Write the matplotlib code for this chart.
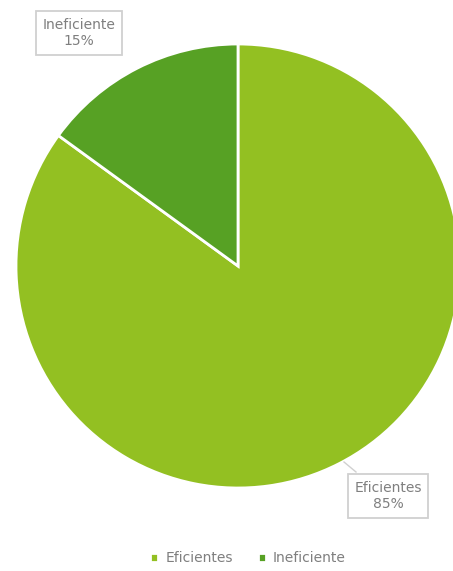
import matplotlib
matplotlib.use('Agg')
import matplotlib.pyplot as plt

# data
labels = ['Eficientes', 'Ineficiente']
values = [85, 15]
colors = ['#93c022', '#57a124']

W, H = 453, 571
fig = plt.figure(figsize=(W / 100, H / 100), dpi=100)
ax = fig.add_axes([0, 0, 1, 1])

cx, cy, r = 238, H - 266, 222
wedges, _ = ax.pie(values, colors=colors, startangle=90, counterclock=False,
                   center=(cx, cy), radius=r, frame=True,
                   wedgeprops=dict(edgecolor='white', linewidth=2))
ax.set_xlim(0, W)
ax.set_ylim(0, H)
ax.set_aspect('equal')
ax.axis('off')

box = dict(boxstyle='square,pad=0.45', fc='white', ec='#d0d0d0', lw=1.3)
txt = dict(fontsize=10, color='#7f7f7f', ha='center', va='center', linespacing=1.25)

# leader line for Eficientes
ax.plot([344, 356], [H - 462, H - 472], color='#d0d0d0', lw=1)
ax.text(388, H - 496, '%s\n%d%%' % (labels[0], values[0]), bbox=box, **txt)
ax.text(79, H - 33, '%s\n%d%%' % (labels[1], values[1]), bbox=box, **txt)

leg = ax.legend(wedges, labels, loc='center', bbox_to_anchor=(248 / W, 13 / H),
                ncol=2, frameon=False, fontsize=10, handlelength=0.6,
                handleheight=0.6, handletextpad=0.5, columnspacing=1.8)
for t in leg.get_texts():
    t.set_color('#7f7f7f')

fig.savefig('out.png', dpi=100)
